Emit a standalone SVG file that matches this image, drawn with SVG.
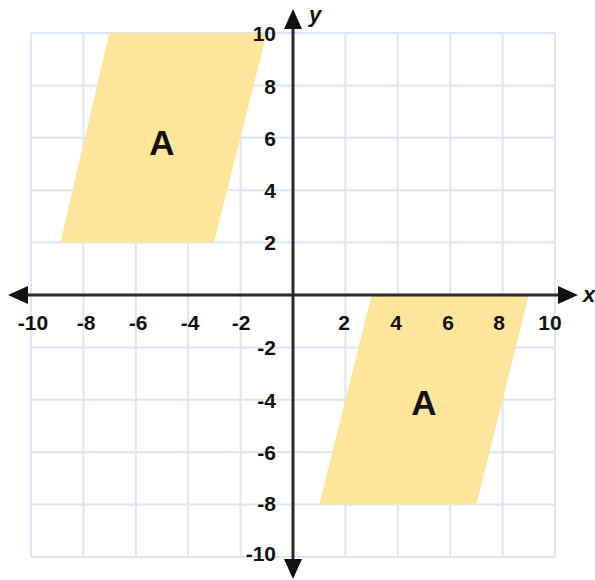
<svg xmlns="http://www.w3.org/2000/svg" width="595" height="580" viewBox="0 0 595 580">
<style>
.grid{stroke:#dde6f4;stroke-width:2;fill:none}
.axis{stroke:#2a2a2a;stroke-width:3;fill:none}
.head{fill:#111}
.shape{fill:#fde59b}
.lbl{font-family:"Liberation Sans",Arial,sans-serif;font-weight:bold;font-size:21px;fill:#111}
.big{font-family:"Liberation Sans",Arial,sans-serif;font-weight:bold;font-size:35px;fill:#111;text-anchor:middle}
.ax{font-family:"Liberation Sans",Arial,sans-serif;font-weight:bold;font-style:italic;font-size:22px;fill:#111}
</style>
<rect width="595" height="580" fill="#ffffff"/>
<g id="grid" class="grid">
<path d="M31 33V557M83.4 33V557M135.8 33V557M188.2 33V557M240.6 33V557M345.4 33V557M397.8 33V557M450.2 33V557M502.6 33V557M555 33V557"/>
<path d="M31 33H555M31 85.4H555M31 137.8H555M31 190.2H555M31 242.6H555M31 347.4H555M31 399.8H555M31 452.2H555M31 504.6H555M31 557H555"/>
</g>
<g id="shapeA1">
<polygon class="shape" points="60.4,242.6 214,242.6 266.8,33 109.4,33"/>
<text class="big" x="162" y="155">A</text>
</g>
<g id="shapeA2">
<polygon class="shape" points="371.6,295 528.8,295 476.4,504.6 319.2,504.6"/>
<text class="big" x="424" y="415">A</text>
</g>
<g id="axes">
<path class="axis" d="M20 295H566M293 22V566"/>
<polygon class="head" points="8,295 28,286 28,304"/>
<polygon class="head" points="578,295 558,286 558,304"/>
<polygon class="head" points="293,9 284,29 302,29"/>
<polygon class="head" points="293,579 284,559 302,559"/>
<text class="ax" x="309" y="22">y</text>
<text class="ax" x="583" y="302">x</text>
</g>
<g id="xlabels" class="lbl" text-anchor="middle">
<text x="33" y="330">-10</text>
<text x="86" y="330">-8</text>
<text x="138" y="330">-6</text>
<text x="190" y="330">-4</text>
<text x="241" y="330">-2</text>
<text x="344" y="330">2</text>
<text x="396" y="330">4</text>
<text x="448" y="330">6</text>
<text x="499" y="330">8</text>
<text x="550" y="330">10</text>
</g>
<g id="ylabels" class="lbl" text-anchor="end">
<text x="276" y="41">10</text>
<text x="276" y="94">8</text>
<text x="276" y="146">6</text>
<text x="276" y="198">4</text>
<text x="276" y="250">2</text>
<text x="276" y="355">-2</text>
<text x="276" y="408">-4</text>
<text x="276" y="460">-6</text>
<text x="276" y="511">-8</text>
<text x="276" y="561">-10</text>
</g>
</svg>
